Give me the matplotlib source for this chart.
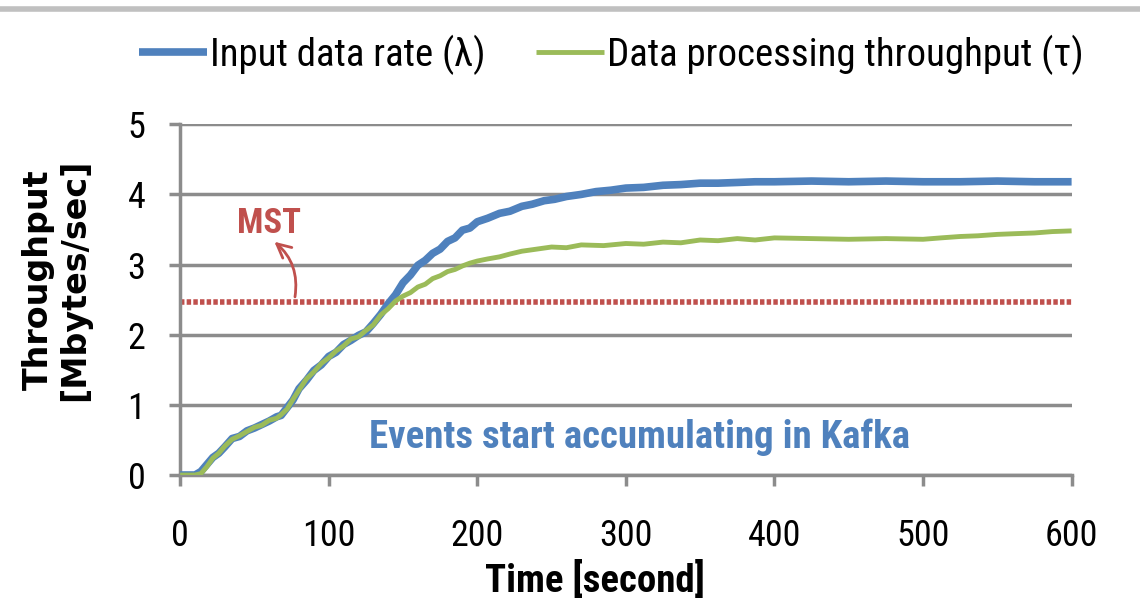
import matplotlib
matplotlib.use("Agg")
import matplotlib.pyplot as plt
from matplotlib.lines import Line2D

plt.rcParams['font.family'] = ['Roboto Condensed', 'Liberation Sans Narrow', 'Roboto', 'DejaVu Sans']

# Data
time_in = [0, 5, 10, 14, 18, 22, 26, 30, 35, 40, 45, 50, 55, 60, 65, 68, 72, 76, 80, 85, 90, 95,
           100, 105, 110, 115, 120, 125, 130, 135, 140, 145, 150, 155, 160, 165, 170, 175, 180,
           185, 190, 195, 200, 207, 215, 222, 230, 237, 245, 252, 260, 270, 280, 290, 300, 312,
           325, 337, 350, 362, 375, 387, 400, 425, 450, 475, 500, 525, 550, 575, 600]
rate_in = [0.0, 0.0, 0.0, 0.05, 0.15, 0.25, 0.31, 0.4, 0.52, 0.55, 0.63, 0.67, 0.72, 0.77, 0.83, 0.85,
           0.96, 1.07, 1.23, 1.35, 1.49, 1.57, 1.69, 1.75, 1.86, 1.92, 1.99, 2.04, 2.16, 2.29, 2.44,
           2.57, 2.74, 2.85, 2.99, 3.06, 3.16, 3.22, 3.33, 3.38, 3.49, 3.52, 3.61, 3.66, 3.73, 3.76,
           3.83, 3.86, 3.91, 3.93, 3.97, 4.0, 4.04, 4.06, 4.09, 4.1, 4.13, 4.14, 4.16, 4.16, 4.17,
           4.18, 4.18, 4.19, 4.18, 4.19, 4.18, 4.18, 4.19, 4.18, 4.18]

time_tp = [0, 10, 14, 18, 22, 26, 30, 35, 40, 45, 50, 55, 60, 65, 68, 72, 76, 80, 85, 90, 95,
           100, 105, 110, 115, 120, 125, 130, 135, 140, 145, 150, 155, 160, 165, 170, 175, 180,
           185, 190, 195, 200, 207, 215, 222, 230, 240, 250, 260, 270, 285, 300, 312, 325, 337,
           350, 362, 375, 387, 400, 425, 450, 475, 500, 512, 525, 537, 550, 562, 575, 587, 600]
rate_tp = [0.0, 0.0, 0.02, 0.12, 0.24, 0.31, 0.41, 0.51, 0.56, 0.62, 0.68, 0.71, 0.78, 0.81, 0.86,
           0.94, 1.08, 1.21, 1.37, 1.47, 1.59, 1.67, 1.77, 1.84, 1.94, 1.97, 2.06, 2.14, 2.28, 2.37,
           2.48, 2.55, 2.6, 2.68, 2.72, 2.8, 2.84, 2.9, 2.93, 2.98, 3.02, 3.05, 3.08, 3.11, 3.15,
           3.19, 3.22, 3.25, 3.24, 3.28, 3.27, 3.3, 3.29, 3.32, 3.31, 3.35, 3.34, 3.37, 3.35, 3.38,
           3.37, 3.36, 3.37, 3.36, 3.38, 3.4, 3.41, 3.43, 3.44, 3.45, 3.47, 3.48]

mst_value = 2.46
x_ticks = [0, 100, 200, 300, 400, 500, 600]
y_ticks = [0, 1, 2, 3, 4, 5]

blue = '#4f81bd'
green = '#9bbb59'
red = '#c0504d'
grid_gray = '#8c8c8c'

fig = plt.figure(figsize=(11.4, 6.09), dpi=100)
ax = fig.add_axes([0.158, 0.22, 0.782, 0.576])

ax.plot(time_in, rate_in, color=blue, lw=5.5, solid_capstyle='butt', label='Input data rate (λ)', zorder=3)
ax.plot(time_tp, rate_tp, color=green, lw=3.5, solid_capstyle='butt', label='Data processing throughput (τ)', zorder=4)
ax.plot([0, 600], [mst_value, mst_value], color=red, lw=4, linestyle=(0, (0.8, 0.4)), zorder=2)

ax.set_xlim(0, 600)
ax.set_ylim(0, 5)
ax.set_xticks(x_ticks)
ax.set_yticks(y_ticks)
ax.tick_params(axis='both', labelsize=26, length=8, width=2.5, color=grid_gray)
ax.tick_params(axis='x', pad=23)
ax.tick_params(axis='y', pad=17)
ax.yaxis.grid(True, color=grid_gray, lw=2.5)
ax.set_axisbelow(True)
for s in ['top', 'right']:
    ax.spines[s].set_visible(False)
ax.spines['left'].set_color(grid_gray)
ax.spines['left'].set_linewidth(2.5)
ax.spines['bottom'].set_color(grid_gray)
ax.spines['bottom'].set_linewidth(2.5)

ax.set_xlabel('Time [second]', fontsize=28, fontweight='bold')
ax.xaxis.set_label_coords(0.465, -0.245)
ax.set_ylabel('Throughput\n[Mbytes/sec]', fontsize=24, fontweight='bold', linespacing=1.1,
              family=['DejaVu Sans'])
ax.yaxis.set_label_coords(-0.1, 0.556)

ax.text(60, 3.35, 'MST', color=red, fontsize=25, fontweight='bold', ha='center', va='bottom')
ax.annotate('', xy=(62, 3.35), xytext=(77, 2.5),
            arrowprops=dict(arrowstyle='->', color=red, lw=2, mutation_scale=25,
                            connectionstyle='arc3,rad=0.3'))

ax.text(309, 0.54, 'Events start accumulating in Kafka', color=blue, fontsize=28,
        fontweight='bold', ha='center', va='center')

ax.legend(loc='center', bbox_to_anchor=(0.536, 0.91), bbox_transform=fig.transFigure, ncol=2,
          frameon=False, fontsize=28, handlelength=1.75, handletextpad=0.08, columnspacing=1.3,
          borderpad=0, borderaxespad=0)

fig.add_artist(Line2D([0.0, 1.0], [0.985, 0.985], color='#c0c0c0', lw=4, transform=fig.transFigure))

fig.savefig('out.png', dpi=100)
